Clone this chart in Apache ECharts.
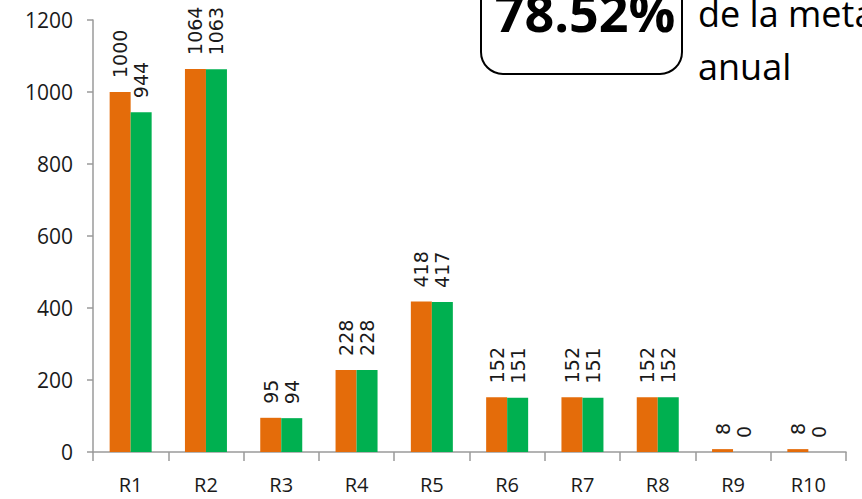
<!DOCTYPE html>
<html>
<head>
<meta charset="utf-8">
<script src="https://cdn.jsdelivr.net/npm/echarts@6/dist/echarts.min.js"></script>
<style>html,body{margin:0;padding:0;background:#fff;}#c{width:862px;height:499px;}</style>
</head>
<body>
<div id="c"></div>
<script>
const categories = ['R1','R2','R3','R4','R5','R6','R7','R8','R9','R10'];
const metaValues = [1000,1064,95,228,418,152,152,152,8,8];
const realValues = [944,1063,94,228,417,151,151,152,0,0];
const yTicks = {min: 0, max: 1200, interval: 200};
const boxTitle = '78.52%';
const boxLines = ['de la meta', 'anual'];

const chart = echarts.init(document.getElementById('c'), null, {renderer: 'svg'});
const labelStyle = {
  show: true, position: 'top', rotate: 90, align: 'left', verticalAlign: 'middle',
  distance: 14, fontFamily: 'DejaVu Sans', fontSize: 19, color: '#1a1a1a'
};
chart.setOption({
  animation: false,
  grid: {left: 93, right: 16, top: 20, bottom: 47},
  xAxis: {
    type: 'category', data: categories,
    axisLine: {lineStyle: {color: '#9a9a9a', width: 1.5}},
    axisTick: {show: true, length: 9, alignWithLabel: false, lineStyle: {color: '#9a9a9a', width: 1.5}},
    axisLabel: {fontFamily: 'Open Sans', fontSize: 20, color: '#1a1a1a', margin: 22}
  },
  yAxis: {
    type: 'value', min: yTicks.min, max: yTicks.max, interval: yTicks.interval,
    splitLine: {show: false},
    axisLine: {show: true, lineStyle: {color: '#9a9a9a', width: 1.5}},
    axisTick: {show: true, length: 6, lineStyle: {color: '#9a9a9a', width: 1.5}},
    axisLabel: {fontFamily: 'Open Sans', fontSize: 21, color: '#1a1a1a', margin: 20, formatter: v => String(v)}
  },
  series: [
    {type: 'bar', data: metaValues, barWidth: 21, barGap: '0%', itemStyle: {color: '#E46C0A'}, label: labelStyle},
    {type: 'bar', data: realValues, barWidth: 21, barGap: '0%', itemStyle: {color: '#00B050'}, label: labelStyle}
  ],
  graphic: [
    {type: 'rect', shape: {x: 481, y: -40, width: 201, height: 114, r: 22},
     style: {fill: 'none', stroke: '#000', lineWidth: 2}},
    {type: 'text', x: 585, y: 37, style: {text: boxTitle, fontFamily: 'Open Sans', fontWeight: 'bold', fontSize: 52, fill: '#000', textAlign: 'center', textVerticalAlign: 'bottom'}},
    {type: 'text', x: 698, y: 31, style: {text: boxLines[0], fontFamily: 'Open Sans', fontSize: 36, fill: '#000', textAlign: 'left', textVerticalAlign: 'bottom'}},
    {type: 'text', x: 698, y: 84, style: {text: boxLines[1], fontFamily: 'Open Sans', fontSize: 36, fill: '#000', textAlign: 'left', textVerticalAlign: 'bottom'}}
  ]
});
</script>
</body>
</html>
